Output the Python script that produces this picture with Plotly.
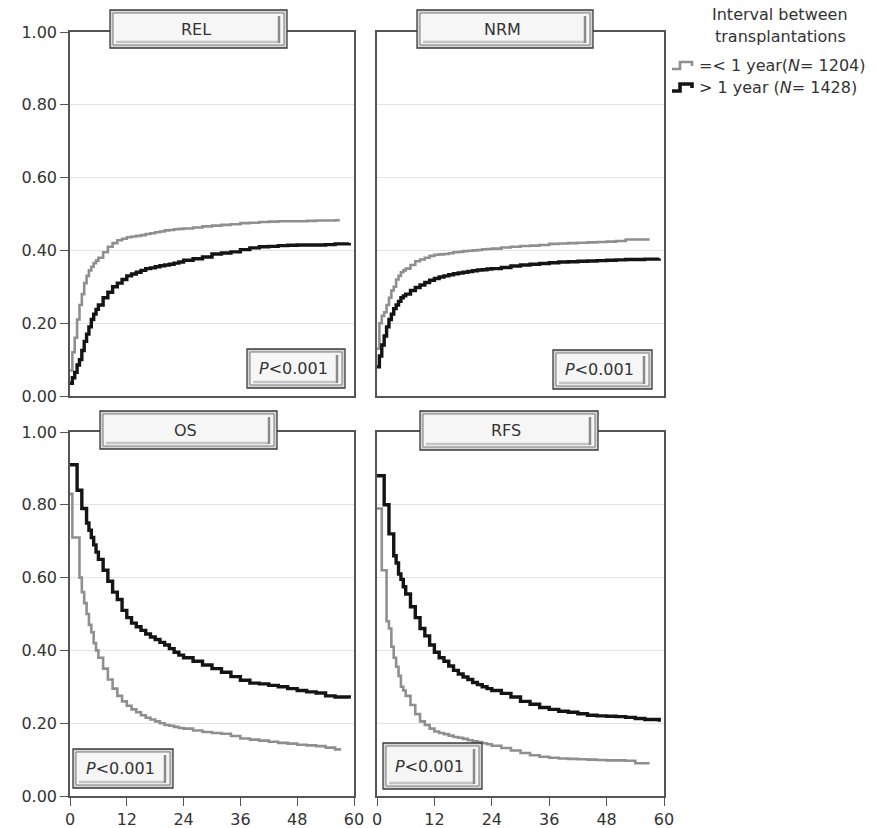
import plotly.graph_objects as go
from plotly.subplots import make_subplots

W, H = 877, 828

# ---------------- data ----------------
TIME_GRID = [0, 0.5, 1, 1.5, 2, 2.5, 3, 3.5, 4, 4.5, 5, 5.5, 6,
             7, 8, 9, 10, 11, 12, 13, 14, 15, 16, 17, 18, 19, 20, 21, 22, 23, 24,
             26, 28, 30, 32, 34, 36, 38, 40, 42, 44, 46, 48, 50, 52, 54, 56]
TIME_LE1 = TIME_GRID + [57]   # =< 1 year group (follow-up ends ~57 months)
TIME_GT1 = TIME_GRID + [59]   # > 1 year group (follow-up ends ~59 months)

REL_LE1 = [0.07, 0.12, 0.16, 0.21, 0.25, 0.28, 0.31, 0.33, 0.345, 0.355, 0.365, 0.372, 0.38,
           0.395, 0.41, 0.42, 0.428, 0.432, 0.436, 0.438, 0.44, 0.442, 0.445, 0.447, 0.45,
           0.452, 0.455, 0.456, 0.458, 0.459, 0.46,
           0.463, 0.466, 0.468, 0.47, 0.472, 0.475, 0.476, 0.478, 0.479, 0.48, 0.48, 0.48,
           0.481, 0.482, 0.482, 0.483, 0.483]
REL_GT1 = [0.035, 0.05, 0.065, 0.085, 0.10, 0.125, 0.15, 0.17, 0.19, 0.21, 0.225, 0.238, 0.25,
           0.27, 0.285, 0.30, 0.31, 0.32, 0.33, 0.335, 0.34, 0.345, 0.35, 0.352, 0.355,
           0.358, 0.36, 0.362, 0.365, 0.368, 0.373,
           0.377, 0.382, 0.39, 0.393, 0.396, 0.402, 0.407, 0.41, 0.411, 0.413, 0.414, 0.415,
           0.415, 0.415, 0.416, 0.418, 0.42]

NRM_LE1 = [0.13, 0.20, 0.22, 0.23, 0.25, 0.27, 0.29, 0.30, 0.32, 0.33, 0.34, 0.345, 0.35,
           0.36, 0.37, 0.375, 0.38, 0.385, 0.388, 0.389, 0.39, 0.392, 0.395, 0.396, 0.398,
           0.399, 0.40, 0.401, 0.403, 0.404, 0.405,
           0.408, 0.41, 0.412, 0.413, 0.415, 0.418, 0.419, 0.42, 0.421, 0.422, 0.423, 0.424,
           0.426, 0.43, 0.43, 0.43, 0.43]
NRM_GT1 = [0.08, 0.11, 0.14, 0.165, 0.19, 0.21, 0.225, 0.24, 0.25, 0.26, 0.27, 0.275, 0.28,
           0.29, 0.298, 0.305, 0.312, 0.318, 0.323, 0.327, 0.33, 0.333, 0.336, 0.338, 0.34,
           0.342, 0.344, 0.346, 0.347, 0.349, 0.35,
           0.353, 0.357, 0.36, 0.362, 0.364, 0.366, 0.368, 0.369, 0.37, 0.371, 0.372, 0.373,
           0.374, 0.375, 0.375, 0.376, 0.378]

OS_LE1 = [0.83, 0.71, 0.71, 0.71, 0.60, 0.56, 0.53, 0.50, 0.47, 0.45, 0.42, 0.40, 0.38,
          0.35, 0.32, 0.295, 0.275, 0.26, 0.248, 0.238, 0.23, 0.222, 0.215, 0.21, 0.205,
          0.20, 0.195, 0.193, 0.19, 0.187, 0.185,
          0.18, 0.176, 0.173, 0.171, 0.165, 0.158, 0.155, 0.152, 0.149, 0.146, 0.144, 0.141,
          0.139, 0.137, 0.133, 0.128, 0.124]
OS_GT1 = [0.91, 0.91, 0.91, 0.84, 0.84, 0.79, 0.79, 0.75, 0.73, 0.71, 0.69, 0.67, 0.65,
          0.62, 0.59, 0.56, 0.54, 0.51, 0.49, 0.475, 0.465, 0.455, 0.445, 0.437, 0.43,
          0.422, 0.415, 0.405, 0.395, 0.387, 0.38,
          0.37, 0.36, 0.35, 0.34, 0.328, 0.318, 0.31, 0.308, 0.304, 0.30, 0.295, 0.29,
          0.286, 0.283, 0.275, 0.272, 0.268]

RFS_LE1 = [0.79, 0.79, 0.62, 0.62, 0.48, 0.46, 0.41, 0.38, 0.355, 0.33, 0.30, 0.29, 0.275,
           0.25, 0.225, 0.205, 0.195, 0.185, 0.177, 0.173, 0.17, 0.166, 0.162, 0.16, 0.157,
           0.153, 0.15, 0.148, 0.145, 0.142, 0.138,
           0.132, 0.125, 0.118, 0.112, 0.108, 0.105, 0.103, 0.102, 0.101, 0.10, 0.099, 0.098,
           0.098, 0.097, 0.09, 0.09, 0.09]
RFS_GT1 = [0.88, 0.88, 0.88, 0.80, 0.80, 0.72, 0.72, 0.66, 0.64, 0.61, 0.595, 0.575, 0.555,
           0.52, 0.49, 0.46, 0.44, 0.415, 0.395, 0.38, 0.37, 0.357, 0.345, 0.335, 0.327,
           0.32, 0.312, 0.306, 0.30, 0.295, 0.29,
           0.282, 0.272, 0.26, 0.252, 0.243, 0.238, 0.233, 0.23, 0.226, 0.222, 0.22, 0.219,
           0.218, 0.216, 0.213, 0.21, 0.204]

PANEL_TITLES = ["REL", "NRM", "OS", "RFS"]
P_TEXT = ["<i>P</i>&lt;0.001"] * 4
Y_TICKS = [0, 0.2, 0.4, 0.6, 0.8, 1.0]
Y_TICK_LABELS = ["0.00", "0.20", "0.40", "0.60", "0.80", "1.00"]
X_TICKS = [0, 12, 24, 36, 48, 60]
X_TICK_LABELS = ["0", "12", "24", "36", "48", "60"]
LEGEND_TITLE = ["Interval between", "transplantations"]
GROUP_NAMES = ["=< 1 year(<i>N</i>= 1204)", "> 1 year (<i>N</i>= 1428)"]

SERIES = [(REL_LE1, REL_GT1), (NRM_LE1, NRM_GT1), (OS_LE1, OS_GT1), (RFS_LE1, RFS_GT1)]
for a, b in SERIES:
    assert len(a) == len(TIME_LE1) and len(b) == len(TIME_GT1)

GRAY = "#8f8f8f"
BLACK = "#141414"
FONT = "DejaVu Sans"
TXT = "#333333"

# ---------------- layout geometry (pixels) ----------------
COLS_PX = [(70, 354), (377, 664)]
ROWS_PX = [(32, 396), (432, 796)]


def px(x, y):
    return x / W, 1 - y / H


fig = make_subplots(rows=2, cols=2)

for i, (le1, gt1) in enumerate(SERIES):
    r, c = divmod(i, 2)
    fig.add_trace(go.Scatter(x=TIME_LE1, y=le1, mode="lines", line_shape="hv",
                             line=dict(color=GRAY, width=2.6), showlegend=False,
                             hoverinfo="skip"), row=r + 1, col=c + 1)
    fig.add_trace(go.Scatter(x=TIME_GT1, y=gt1, mode="lines", line_shape="hv",
                             line=dict(color=BLACK, width=3.4), showlegend=False,
                             hoverinfo="skip"), row=r + 1, col=c + 1)

layout = dict(width=W, height=H, autosize=False, margin=dict(l=0, r=0, t=0, b=0, pad=0),
              plot_bgcolor="white", paper_bgcolor="white", showlegend=False,
              font=dict(family=FONT, color=TXT, size=16))

for i in range(4):
    r, c = divmod(i, 2)
    suffix = "" if i == 0 else str(i + 1)
    x0, x1 = COLS_PX[c]
    y0, y1 = ROWS_PX[r]
    layout["xaxis" + suffix] = dict(
        domain=[x0 / W, x1 / W], range=[0, 60], showgrid=False, zeroline=False,
        showline=True, mirror=True, linecolor="#555555", linewidth=1.6,
        tickvals=X_TICKS, ticktext=X_TICK_LABELS, automargin=False,
        showticklabels=(r == 1), ticks="outside" if r == 1 else "",
        ticklen=8, tickcolor="#555555", tickwidth=1.3,
        tickfont=dict(family=FONT, size=16, color=TXT), fixedrange=True)
    layout["yaxis" + suffix] = dict(
        domain=[1 - y1 / H, 1 - y0 / H], range=[0, 1], showgrid=True,
        gridcolor="#e3e3e3", gridwidth=1, zeroline=False, automargin=False,
        showline=True, mirror=True, linecolor="#555555", linewidth=1.6,
        tickvals=Y_TICKS, ticktext=Y_TICK_LABELS,
        showticklabels=(c == 0), ticks="outside" if c == 0 else "",
        ticklen=8, tickcolor="#555555", tickwidth=1.3,
        tickfont=dict(family=FONT, size=16, color=TXT), fixedrange=True)

fig.update_layout(**layout)

shapes = []
annotations = []


def bevel_box(bx0, by0, bx1, by1, text, size=16):
    ax0, ay0 = px(bx0, by0)
    ax1, ay1 = px(bx1, by1)
    shapes.append(dict(type="rect", xref="paper", yref="paper", x0=ax0, y0=ay1, x1=ax1, y1=ay0,
                       fillcolor="#d6d6d6", line=dict(color="#3a3a3a", width=1.3), layer="above"))
    ix0, iy0 = px(bx0 + 3, by0 + 3)
    ix1, iy1 = px(bx1 - 3, by1 - 3)
    shapes.append(dict(type="rect", xref="paper", yref="paper", x0=ix0, y0=iy1, x1=ix1, y1=iy0,
                       fillcolor="#f6f6f6", line=dict(color="#7a7a7a", width=1), layer="above"))
    sx0, sy0 = px(bx0 + 6, by1 - 6)
    sx1, sy1 = px(bx1 - 8, by1 - 6)
    shapes.append(dict(type="line", xref="paper", yref="paper", x0=sx0, y0=sy0, x1=sx1, y1=sy1,
                       line=dict(color="#c4c4c4", width=2.5), layer="above"))
    rx0, ry0 = px(bx1 - 8, by0 + 6)
    rx1, ry1 = px(bx1 - 8, by1 - 5)
    shapes.append(dict(type="line", xref="paper", yref="paper", x0=rx0, y0=ry0, x1=rx1, y1=ry1,
                       line=dict(color="#8a8a8a", width=2.5), layer="above"))
    cx, cy = px((bx0 + bx1) / 2 - 3, (by0 + by1) / 2)
    annotations.append(dict(x=cx, y=cy, xref="paper", yref="paper", text=text, showarrow=False,
                            font=dict(family=FONT, size=size, color=TXT),
                            xanchor="center", yanchor="middle"))


TITLE_BOXES = [(110, 10, 287, 48), (417, 10, 593, 48), (100, 411, 277, 449), (420, 411, 598, 450)]
P_BOXES = [(247, 349, 345, 388), (553, 350, 652, 389), (73, 749, 173, 788), (383, 743, 482, 789)]

for i in range(4):
    bevel_box(*TITLE_BOXES[i], PANEL_TITLES[i], size=16)
    bevel_box(*P_BOXES[i], P_TEXT[i], size=16)

for k, line in enumerate(LEGEND_TITLE):
    lx, ly = px(780, 15 + 22 * k)
    annotations.append(dict(x=lx, y=ly, xref="paper", yref="paper", text=line, showarrow=False,
                            font=dict(family=FONT, size=16, color=TXT),
                            xanchor="center", yanchor="middle"))

for k, (name, col, wd) in enumerate(zip(GROUP_NAMES, [GRAY, BLACK], [2.6, 3.6])):
    yb = 69 + 22 * k
    pts = [(672, yb), (680, yb), (680, yb - 7), (692, yb - 7), (692, yb - 3)]
    path = "M " + " L ".join("{:.5f},{:.5f}".format(*px(a, b)) for a, b in pts)
    shapes.append(dict(type="path", xref="paper", yref="paper", path=path,
                       line=dict(color=col, width=wd)))
    tx, ty = px(697, yb - 4)
    annotations.append(dict(x=tx, y=ty, xref="paper", yref="paper", text=name, showarrow=False,
                            font=dict(family=FONT, size=16, color=TXT),
                            xanchor="left", yanchor="middle"))

fig.update_layout(shapes=shapes, annotations=annotations)
fig.write_html("out.html", config={"responsive": False, "displayModeBar": False},
               post_script="document.body.style.margin='0';document.body.style.padding='0';"
                           "document.body.style.overflow='hidden';")
